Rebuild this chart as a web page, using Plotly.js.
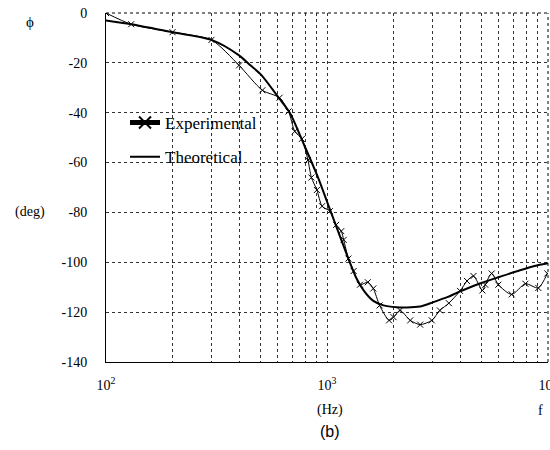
<!DOCTYPE html>
<html>
<head>
<meta charset="utf-8">
<script src="https://cdn.plot.ly/plotly-3.0.1.min.js"></script>
<style>html,body{margin:0;padding:0;background:#fff}#chart{width:550px;height:450px}</style>
</head>
<body>
<div id="chart"></div>
<script>
// Experimental phase (deg) vs frequency (Hz)
var expFreq = [100,130,200,300,400,510,610,670,715,770,820,850,900,950,1030,1100,1160,1190,1250,1320,1410,1530,1620,1730,1910,2000,2140,2380,2640,2980,3240,3560,4000,4300,4600,5050,5200,5560,5960,6850,7900,9040,9930];
var expPhase = [0,-4.5,-7.7,-10.8,-21,-31,-34,-39.5,-47.5,-50.5,-59,-66,-71,-77.5,-79.5,-85,-87.5,-91,-98.5,-103.5,-109,-108,-110.5,-117.3,-123.3,-122,-119.3,-123.3,-125,-123.3,-119.3,-116.4,-111.5,-107.5,-105.5,-111.3,-109,-104.5,-109,-112.9,-108.6,-110.3,-104.5];
// Theoretical phase (deg) vs frequency (Hz)
var thFreq = [100,130,200,300,400,450,506,608,681,795,914,1033,1146,1249,1361,1470,1620,1800,2066,2400,2700,3027,3500,3928,4920,6063,7468,8890,10000];
var thPhase = [-3,-4.5,-7.7,-10.8,-17,-21,-25,-34.3,-40.3,-53.7,-66.3,-79,-89.7,-98.5,-106.5,-111.5,-115.5,-117.3,-118,-118,-117.5,-116,-114,-112,-108.5,-105.8,-103.2,-101.3,-100.4];
// Axis ticks
var xTickVals = [100,200,300,400,500,600,700,800,900,1000,2000,3000,4000,5000,6000,7000,8000,9000,10000];
var xTickText = ['10<sup>2</sup>','','','','','','','','','10<sup>3</sup>','','','','','','','','','10<sup>4</sup>'];
var yTickVals = [0,-20,-40,-60,-80,-100,-120,-140];
var yTickText = ['0','-20','-40','-60','-80','-100','-120','-140'];

var serif = 'Liberation Serif';

var traces = [
  {
    x: expFreq, y: expPhase, name: 'Experimental', type: 'scatter', mode: 'lines+markers',
    line: {color: '#000', width: 1, shape: 'spline', smoothing: 0.7},
    marker: {symbol: 'x-thin-open', size: 6, color: '#000', line: {color: '#000', width: 1}},
    legend: 'legend'
  },
  {
    x: thFreq, y: thPhase, name: 'Theoretical', type: 'scatter', mode: 'lines',
    line: {color: '#000', width: 2, shape: 'spline', smoothing: 0.8},
    legend: 'legend2'
  }
];

var axisCommon = {
  showgrid: true, gridcolor: '#333', griddash: 'dot', gridwidth: 1,
  zeroline: false, ticks: '', showline: true, linecolor: '#000', linewidth: 1,
  tickfont: {family: serif, size: 14, color: '#000'}, ticklabeloverflow: 'allow'
};

var layout = {
  width: 550, height: 450,
  margin: {l: 106, r: 2, t: 13, b: 88},
  paper_bgcolor: '#fff', plot_bgcolor: '#fff',
  showlegend: true,
  xaxis: Object.assign({}, axisCommon, {
    type: 'log', range: [2, 4], tickmode: 'array', tickvals: xTickVals, ticktext: xTickText,
    ticklabelstandoff: 10
  }),
  yaxis: Object.assign({}, axisCommon, {
    range: [-140, 0], tickmode: 'array', tickvals: yTickVals, ticktext: yTickText, ticklabelstandoff: 15
  }),
  legend: {x: 0.043, y: 0.685, xanchor: 'left', yanchor: 'middle', bgcolor: 'rgba(0,0,0,0)',
    itemsizing: 'constant', font: {family: serif, size: 17, color: '#000'}},
  legend2: {x: 0.043, y: 0.587, xanchor: 'left', yanchor: 'middle', bgcolor: 'rgba(0,0,0,0)',
    font: {family: serif, size: 17, color: '#000'}},
  shapes: [
    {type: 'line', xref: 'paper', yref: 'paper', x0: 0, x1: 1, y0: 1, y1: 1,
     line: {color: '#000', width: 1, dash: 'dot'}},
    {type: 'line', xref: 'paper', yref: 'paper', x0: 1, x1: 1, y0: 0, y1: 1,
     line: {color: '#000', width: 1, dash: 'dot'}}
  ],
  annotations: [
    {text: 'ϕ', xref: 'paper', yref: 'paper', x: -0.172, y: 0.974, xanchor: 'center', yanchor: 'middle',
     showarrow: false, font: {family: serif, size: 15, color: '#000'}},
    {text: '(deg)', xref: 'paper', yref: 'paper', x: -0.172, y: 0.43, xanchor: 'center', yanchor: 'middle',
     showarrow: false, font: {family: serif, size: 14, color: '#000'}},
    {text: '(Hz)', xref: 'paper', yref: 'paper', x: 0.507, y: -0.138, xanchor: 'center', yanchor: 'middle',
     showarrow: false, font: {family: serif, size: 14, color: '#000'}},
    {text: 'f', xref: 'paper', yref: 'paper', x: 0.982, y: -0.138, xanchor: 'center', yanchor: 'middle',
     showarrow: false, font: {family: serif, size: 14, color: '#000'}},
    {text: '(b)', xref: 'paper', yref: 'paper', x: 0.507, y: -0.2, xanchor: 'center', yanchor: 'middle',
     showarrow: false, font: {family: 'Liberation Sans', size: 16, color: '#000'}}
  ]
};

Plotly.newPlot('chart', traces, layout, {displayModeBar: false, staticPlot: true});
</script>
</body>
</html>
